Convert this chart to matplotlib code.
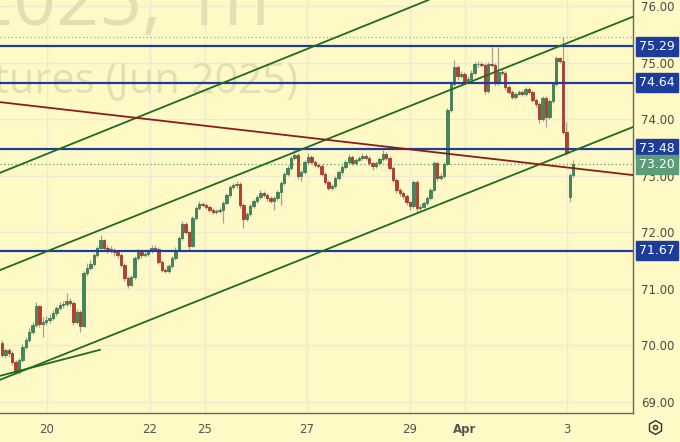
import matplotlib
matplotlib.use("Agg")
import matplotlib.pyplot as plt
from matplotlib.transforms import blended_transform_factory
from matplotlib.lines import Line2D

# ---------------- data ----------------
closes = [69.83, 69.92, 69.86, 69.70, 69.53, 69.74, 69.97, 70.09, 70.24, 70.36,
          70.69, 70.38, 70.41, 70.45, 70.48, 70.57, 70.66, 70.71, 70.73, 70.78,
          70.75, 70.41, 70.59, 70.34, 71.28, 71.37, 71.44, 71.60, 71.72, 71.86,
          71.72, 71.70, 71.69, 71.65, 71.60, 71.42, 71.19, 71.07, 71.21, 71.54,
          71.65, 71.60, 71.61, 71.67, 71.72, 71.70, 71.47, 71.33, 71.31, 71.40,
          71.54, 71.69, 71.90, 72.14, 72.00, 71.76, 72.25, 72.43, 72.50, 72.48,
          72.45, 72.39, 72.36, 72.37, 72.39, 72.52, 72.66, 72.80, 72.83, 72.85,
          72.48, 72.23, 72.32, 72.46, 72.55, 72.62, 72.69, 72.66, 72.60, 72.55,
          72.60, 72.71, 72.87, 73.03, 73.14, 73.31, 73.37, 72.99, 73.06, 73.24,
          73.33, 73.24, 73.19, 73.17, 73.03, 72.89, 72.78, 72.82, 72.96, 73.06,
          73.15, 73.24, 73.33, 73.22, 73.28, 73.31, 73.35, 73.31, 73.22, 73.17,
          73.22, 73.29, 73.38, 73.31, 73.14, 72.92, 72.75, 72.69, 72.64, 72.53,
          72.46, 72.89, 72.43, 72.45, 72.52, 72.60, 72.75, 73.22, 72.96, 72.99,
          73.21, 74.16, 74.62, 74.92, 74.76, 74.80, 74.67, 74.71, 74.82, 74.97,
          74.98, 74.96, 74.50, 74.97, 74.96, 74.64, 74.83, 74.82, 74.57, 74.48,
          74.39, 74.44, 74.48, 74.44, 74.53, 74.48, 74.34, 74.27, 74.00, 74.37,
          74.04, 74.32, 74.62, 75.08, 75.03, 73.77, 73.40, 73.01, 73.20]

opens = [70.04, 69.83, 69.92, 69.86, 69.70, 69.53, 69.74, 69.97, 70.09, 70.24,
         70.36, 70.69, 70.38, 70.41, 70.45, 70.48, 70.57, 70.66, 70.71, 70.73,
         70.78, 70.75, 70.41, 70.59, 70.34, 71.28, 71.37, 71.44, 71.60, 71.72,
         71.86, 71.72, 71.70, 71.69, 71.65, 71.60, 71.42, 71.19, 71.07, 71.21,
         71.54, 71.65, 71.60, 71.61, 71.67, 71.72, 71.70, 71.47, 71.33, 71.31,
         71.40, 71.54, 71.69, 71.90, 72.14, 72.00, 71.76, 72.25, 72.43, 72.50,
         72.48, 72.45, 72.39, 72.36, 72.37, 72.39, 72.52, 72.66, 72.80, 72.83,
         72.85, 72.48, 72.23, 72.32, 72.46, 72.55, 72.62, 72.69, 72.66, 72.60,
         72.55, 72.60, 72.71, 72.87, 73.03, 73.14, 73.31, 73.37, 72.99, 73.06,
         73.24, 73.33, 73.24, 73.19, 73.17, 73.03, 72.89, 72.78, 72.82, 72.96,
         73.06, 73.15, 73.24, 73.33, 73.22, 73.28, 73.31, 73.35, 73.31, 73.22,
         73.17, 73.22, 73.29, 73.38, 73.31, 73.14, 72.92, 72.75, 72.69, 72.64,
         72.53, 72.46, 72.89, 72.43, 72.45, 72.52, 72.60, 72.75, 73.22, 72.96,
         72.99, 73.21, 74.16, 74.62, 74.92, 74.76, 74.80, 74.67, 74.71, 74.82,
         74.97, 74.98, 74.96, 74.50, 74.97, 74.96, 74.64, 74.83, 74.82, 74.57,
         74.48, 74.39, 74.44, 74.48, 74.44, 74.53, 74.48, 74.34, 74.27, 74.00,
         74.37, 74.04, 74.32, 74.62, 75.08, 75.03, 73.77, 72.62, 73.01]

highs = [70.10, 69.96, 69.95, 69.90, 69.74, 69.78, 70.02, 70.14, 70.30, 70.42,
         70.77, 70.72, 70.50, 70.52, 70.55, 70.62, 70.70, 70.76, 70.78, 70.92,
         70.84, 70.78, 70.64, 70.62, 71.31, 71.45, 71.50, 71.64, 71.76, 71.95,
         71.88, 71.78, 71.75, 71.72, 71.68, 71.63, 71.45, 71.22, 71.25, 71.58,
         71.70, 71.68, 71.66, 71.71, 71.77, 71.78, 71.73, 71.50, 71.37, 71.44,
         71.58, 71.73, 71.94, 72.20, 72.18, 72.03, 72.28, 72.47, 72.55, 72.54,
         72.52, 72.48, 72.42, 72.41, 72.44, 72.56, 72.70, 72.84, 72.87, 72.90,
         72.88, 72.51, 72.36, 72.50, 72.59, 72.66, 72.74, 72.73, 72.70, 72.64,
         72.64, 72.75, 72.90, 73.07, 73.18, 73.35, 73.49, 73.40, 73.10, 73.28,
         73.40, 73.36, 73.27, 73.23, 73.20, 73.06, 72.92, 72.86, 73.00, 73.10,
         73.19, 73.28, 73.38, 73.36, 73.32, 73.35, 73.40, 73.38, 73.34, 73.25,
         73.26, 73.33, 73.45, 73.41, 73.34, 73.17, 72.95, 72.79, 72.73, 72.67,
         72.56, 72.93, 72.92, 72.50, 72.56, 72.64, 72.79, 73.26, 73.25, 73.05,
         73.25, 74.20, 74.66, 75.05, 74.95, 74.85, 74.83, 74.76, 74.86, 75.01,
         75.02, 75.01, 74.99, 75.01, 75.27, 74.99, 75.27, 74.88, 74.85, 74.60,
         74.52, 74.48, 74.52, 74.52, 74.57, 74.56, 74.51, 74.37, 74.30, 74.41,
         74.40, 74.36, 74.66, 75.12, 75.10, 75.45, 73.95, 73.05, 73.28]

lows = [69.80, 69.78, 69.80, 69.66, 69.49, 69.50, 69.70, 69.93, 70.05, 70.20,
        70.33, 70.33, 70.15, 70.36, 70.40, 70.44, 70.52, 70.62, 70.66, 70.70,
        70.70, 70.36, 70.38, 70.24, 70.32, 71.22, 71.33, 71.40, 71.57, 71.70,
        71.66, 71.64, 71.63, 71.58, 71.55, 71.38, 71.14, 71.01, 71.04, 71.18,
        71.50, 71.55, 71.56, 71.58, 71.64, 71.66, 71.43, 71.29, 71.27, 71.28,
        71.37, 71.50, 71.66, 71.87, 71.96, 71.69, 71.73, 72.22, 72.40, 72.44,
        72.41, 72.35, 72.32, 72.33, 72.34, 72.16, 72.49, 72.62, 72.77, 72.79,
        72.43, 72.07, 72.19, 72.29, 72.42, 72.52, 72.59, 72.62, 72.56, 72.51,
        72.40, 72.57, 72.48, 72.84, 73.00, 73.10, 73.28, 72.94, 72.90, 73.03,
        73.20, 73.20, 73.15, 73.13, 72.99, 72.85, 72.74, 72.75, 72.79, 72.93,
        73.02, 73.12, 73.21, 73.18, 73.18, 73.26, 73.28, 73.27, 73.18, 73.10,
        73.14, 73.19, 73.26, 73.27, 73.10, 72.88, 72.70, 72.64, 72.58, 72.48,
        72.39, 72.43, 72.34, 72.38, 72.42, 72.48, 72.57, 72.72, 72.90, 72.92,
        72.96, 73.19, 74.13, 74.58, 74.70, 74.73, 74.62, 74.64, 74.68, 74.79,
        74.93, 74.92, 74.45, 74.47, 74.92, 74.58, 74.60, 74.78, 74.52, 74.44,
        74.35, 74.36, 74.42, 74.40, 74.41, 74.44, 74.30, 74.22, 73.93, 73.97,
        73.86, 74.00, 74.28, 74.58, 74.99, 73.74, 73.36, 72.53, 72.98]

date_ticks = [13.2, 43.5, 59.7, 89.7, 120.0, 136.2, 166.2]
date_labels = ["20", "22", "25", "27", "29", "Apr", "3"]
price_ticks = [69, 70, 71, 72, 73, 74, 75, 76]

levels = [75.29, 74.64, 73.48, 71.67]
last_price = 73.20
session_high = 75.45

# trend lines: (bar index, price) endpoints
green_lines = [((-0.6, 73.05), (125.6, 76.11)),
               ((-0.6, 71.33), (185.6, 75.81)),
               ((-0.6, 69.39), (185.6, 73.86))]
short_line = ((-0.6, 69.46), (28.8, 69.92))
red_line = ((-0.6, 74.30), (185.6, 73.01))

# ---------------- style ----------------
BG = "#FFF9C6"
GRID = "#EEEAD6"
UP = "#3E8A5C"
DOWN = "#C23A2B"
UP_EDGE = "#2C6B45"
DOWN_EDGE = "#8E2A1E"
WICK = "#A3A193"
BLUE = "#1E3C9C"
GREEN_LINE = "#1F6B1F"
RED_LINE = "#8C1C1C"
LAST_COL = "#5C9C7A"

fig = plt.figure(figsize=(6.8, 4.42), dpi=100)
fig.patch.set_facecolor(BG)
ax = fig.add_axes([0, 29 / 442, 633 / 680, 413 / 442])
ax.set_facecolor(BG)

ax.set_xlim(-0.6, 185.6)
ax.set_ylim(68.803, 76.106)

# watermark
wm = dict(color="#E4DEB2", family=["Open Sans", "DejaVu Sans"], ha="right",
          va="baseline", transform=ax.transAxes, clip_on=True, zorder=1)
ax.text(270 / 633, 1 - 25 / 413, "BRM2025, 1h", fontsize=54, **wm)
ax.text(298 / 633, 1 - 93 / 413, "Brent Crude Oil Futures (Jun 2025)", fontsize=30, **wm)

# candles
xs = list(range(len(closes)))
bottoms = [min(o, c) for o, c in zip(opens, closes)]
heights = [max(abs(c - o), 0.012) for o, c in zip(opens, closes)]
cols = [UP if c >= o else DOWN for o, c in zip(opens, closes)]
ecols = [UP_EDGE if c >= o else DOWN_EDGE for o, c in zip(opens, closes)]
ax.vlines(xs, lows, highs, color=WICK, lw=0.9, zorder=3)
ax.bar(xs, heights, bottom=bottoms, width=0.72, color=cols, edgecolor=ecols,
       linewidth=0.5, zorder=4)

# dotted lines
ax.axhline(session_high, color="#A6A6A0", lw=0.9, ls=(0, (1, 2)), zorder=2)
ax.axhline(last_price, color=LAST_COL, lw=0.9, ls=(0, (1, 2)), zorder=2)

# level lines
for lv in levels:
    ax.axhline(lv, color=BLUE, lw=1.6, zorder=5)

# trend lines
for p1, p2 in green_lines:
    ax.axline(p1, p2, color=GREEN_LINE, lw=1.3, zorder=6)
ax.plot([short_line[0][0], short_line[1][0]], [short_line[0][1], short_line[1][1]],
        color=GREEN_LINE, lw=1.3, zorder=6)
ax.axline(red_line[0], red_line[1], color=RED_LINE, lw=1.3, zorder=6)

# axes styling
for s in ["left", "top"]:
    ax.spines[s].set_visible(False)
for s in ["right", "bottom"]:
    ax.spines[s].set_color("#666660")
    ax.spines[s].set_linewidth(1.0)

ax.yaxis.tick_right()
ax.set_yticks(price_ticks)
ax.set_yticklabels([f"{v:.2f}" for v in price_ticks])
ax.tick_params(axis="y", length=0, pad=6, labelsize=8.5, labelcolor="#4A4A44")
ax.set_xticks(date_ticks)
ax.set_xticklabels(date_labels)
ax.tick_params(axis="x", length=0, pad=7, labelsize=8.5, labelcolor="#55554F")
ax.get_xticklabels()[5].set_fontweight("bold")
ax.grid(True, color=GRID, lw=1.0, zorder=0)
ax.set_axisbelow(True)

# price labels on the right
tr = blended_transform_factory(ax.transAxes, ax.transData)
for lv in levels:
    ax.text(657 / 633, lv, f"{lv:.2f}", transform=tr, ha="center", va="center",
            fontsize=9, color="white", clip_on=False, zorder=10,
            bbox=dict(boxstyle="square,pad=0.24", fc=BLUE, ec=BLUE))
ax.text(657 / 633, last_price, f"{last_price:.2f}", transform=tr, ha="center",
        va="center", fontsize=9, color="white", clip_on=False, zorder=11,
        bbox=dict(boxstyle="square,pad=0.24", fc=LAST_COL, ec=LAST_COL))

# settings icon
fig.add_artist(Line2D([655 / 680], [1 - 427 / 442], marker="h", markersize=10,
                      mfc="none", mec="#333333", mew=1.0, transform=fig.transFigure))
fig.add_artist(Line2D([655 / 680], [1 - 427 / 442], marker="o", markersize=3,
                      mfc="none", mec="#333333", mew=1.0, transform=fig.transFigure))

fig.savefig("out.png", dpi=100, facecolor=BG)
